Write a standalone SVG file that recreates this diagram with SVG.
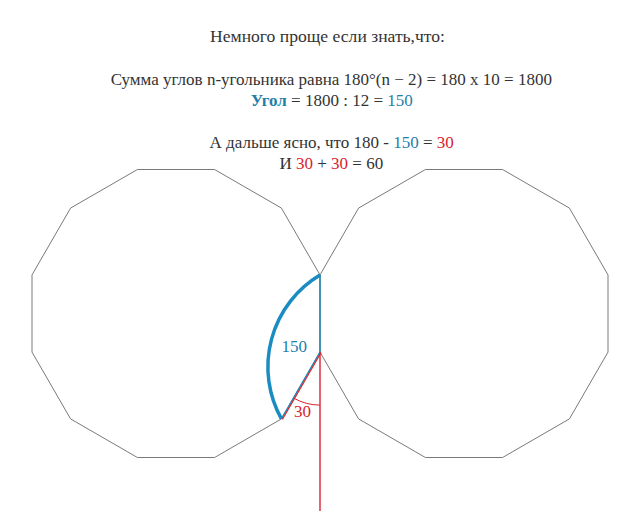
<svg xmlns="http://www.w3.org/2000/svg" width="640" height="518" viewBox="0 0 640 518">
<style>
.t{font-family:"Liberation Serif","DejaVu Serif",serif;font-size:17px;fill:#333333;text-anchor:middle}
.b{fill:#1f80aa}
.r{fill:#d9232e}
.poly{fill:none;stroke:#7a7a7a;stroke-width:1}
.lbl{font-family:"Liberation Serif","DejaVu Serif",serif;font-size:17px}
</style>
<rect width="640" height="518" fill="#ffffff"/>
<g id="text">
<text class="t" x="327.5" y="42" textLength="235" lengthAdjust="spacingAndGlyphs">Немного проще если знать,что:</text>
<text class="t" x="331.3" y="84.5">Сумма углов n-угольника равна 180°(n − 2) = 180 x 10 = 1800</text>
<text class="t" x="331.7" y="106"><tspan class="b" font-weight="bold">Угол</tspan> = 1800 : 12 = <tspan class="b">150</tspan></text>
<text class="t" x="331.7" y="147.5">А дальше ясно, что 180 - <tspan class="b">150</tspan> = <tspan class="r">30</tspan></text>
<text class="t" x="331.3" y="168.5">И <tspan class="r">30</tspan> + <tspan class="r">30</tspan> = 60</text>
</g>
<g id="left-dodecagon">
<polygon class="poly" points="320,274.92 281.42,208.08 214.58,169.5 137.42,169.5 70.58,208.08 32,274.92 32,352.08 70.58,418.92 137.42,457.5 214.58,457.5 281.42,418.92 320,352.08"/>
</g>
<g id="right-dodecagon">
<polygon class="poly" points="608,274.92 569.42,208.08 502.58,169.5 425.42,169.5 358.58,208.08 320,274.92 320,352.08 358.58,418.92 425.42,457.5 502.58,457.5 569.42,418.92 608,352.08"/>
</g>
<g id="connectors" fill="none">
<path d="M320,275 A107,107 0 0 0 281.4,418.9" stroke="#1a8cc2" stroke-width="3.5"/>
<line x1="320" y1="274.9" x2="320" y2="352.1" stroke="#1a8cc2" stroke-width="1.3"/>
<line x1="320" y1="352.1" x2="281.4" y2="418.9" stroke="#1a8cc2" stroke-width="1.3"/>
<line x1="321" y1="352.6" x2="282.4" y2="419.4" stroke="#d9232e" stroke-width="1.1"/>
<line x1="320" y1="352.1" x2="320" y2="511" stroke="#d9232e" stroke-width="1.4"/>
<path d="M293.5,398 A53,53 0 0 0 320,405.1" stroke="#d9232e" stroke-width="1"/>
</g>
<g id="labels">
<text class="lbl b" x="281.5" y="351.5">150</text>
<text class="lbl r" x="294" y="417">30</text>
</g>
</svg>
